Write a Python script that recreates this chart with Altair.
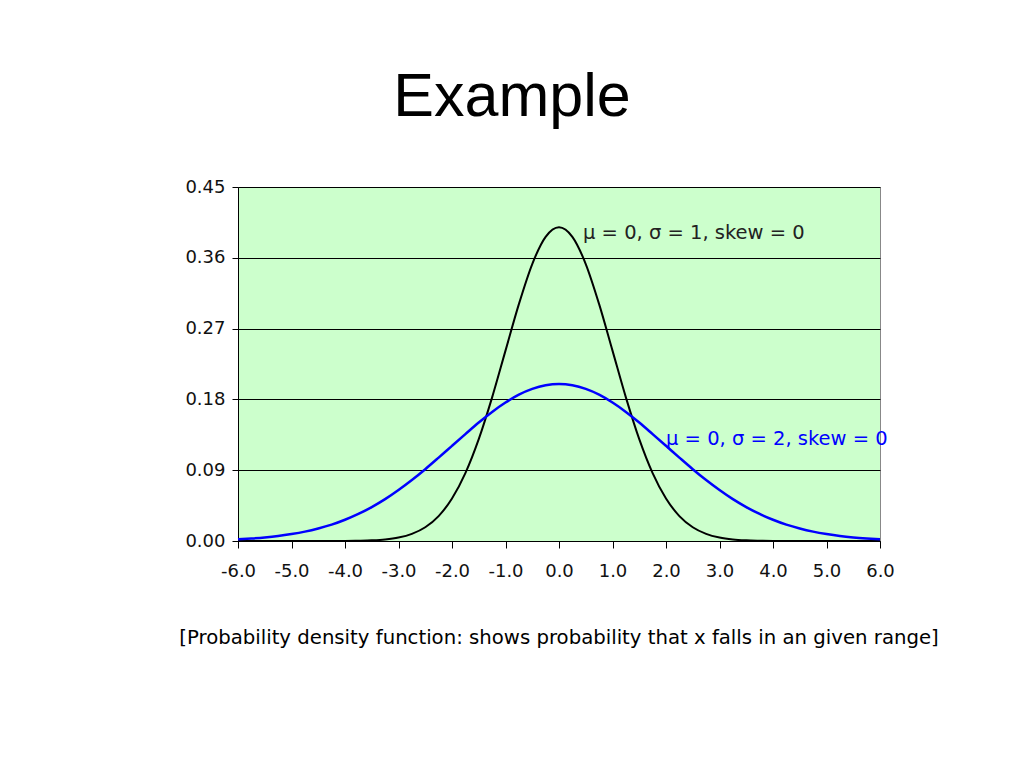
import altair as alt
import pandas as pd

# x positions (read along the horizontal axis)
xs = [-6.0, -5.75, -5.5, -5.25, -5.0, -4.75, -4.5, -4.25, -4.0, -3.75, -3.5, -3.25,
      -3.0, -2.75, -2.5, -2.25, -2.0, -1.75, -1.5, -1.25, -1.0, -0.75, -0.5, -0.25,
      0.0, 0.25, 0.5, 0.75, 1.0, 1.25, 1.5, 1.75, 2.0, 2.25, 2.5, 2.75,
      3.0, 3.25, 3.5, 3.75, 4.0, 4.25, 4.5, 4.75, 5.0, 5.25, 5.5, 5.75, 6.0]

# density (mu=0, sigma=1)
y_sigma1 = [0.0, 0.0, 0.0, 0.0, 0.0, 0.0, 0.0, 0.0, 0.0001, 0.0004, 0.0009, 0.0020,
            0.0044, 0.0091, 0.0175, 0.0317, 0.0540, 0.0863, 0.1295, 0.1826, 0.2420, 0.3011, 0.3521, 0.3867,
            0.3989, 0.3867, 0.3521, 0.3011, 0.2420, 0.1826, 0.1295, 0.0863, 0.0540, 0.0317, 0.0175, 0.0091,
            0.0044, 0.0020, 0.0009, 0.0004, 0.0001, 0.0, 0.0, 0.0, 0.0, 0.0, 0.0, 0.0, 0.0]

# density (mu=0, sigma=2)
y_sigma2 = [0.0022, 0.0032, 0.0045, 0.0063, 0.0088, 0.0119, 0.0159, 0.0208, 0.0270, 0.0344, 0.0431, 0.0532,
            0.0648, 0.0775, 0.0913, 0.1060, 0.1210, 0.1359, 0.1506, 0.1641, 0.1760, 0.1860, 0.1933, 0.1979,
            0.1995, 0.1979, 0.1933, 0.1860, 0.1760, 0.1641, 0.1506, 0.1359, 0.1210, 0.1060, 0.0913, 0.0775,
            0.0648, 0.0532, 0.0431, 0.0344, 0.0270, 0.0208, 0.0159, 0.0119, 0.0088, 0.0063, 0.0045, 0.0032, 0.0022]

x_ticks = [-6, -5, -4, -3, -2, -1, 0, 1, 2, 3, 4, 5, 6]
y_ticks = [0.0, 0.09, 0.18, 0.27, 0.36, 0.45]

title_text = ["Example"]
caption_text = ["[Probability density function: shows probability that x falls in an given range]"]
label1 = ["\u03bc = 0, \u03c3 = 1, skew = 0"]
label2 = ["\u03bc = 0, \u03c3 = 2, skew = 0"]

FONT = "DejaVu Sans"
TITLE_FONT = "Liberation Sans"

df = pd.DataFrame({"x": xs + xs,
                   "y": y_sigma1 + y_sigma2,
                   "s": ["s1"] * len(xs) + ["s2"] * len(xs)})

xenc = alt.X("x:Q", scale=alt.Scale(domain=[-6, 6], nice=False),
             axis=alt.Axis(values=x_ticks, format=".1f", title=None, grid=False,
                           labelExpr="replace(datum.label, '\u2212', '-')",
                           domainColor="black", tickColor="black", tickSize=7,
                           labelFontSize=18, labelFont=FONT, labelColor="#111",
                           labelPadding=14, labelFlush=False))
yenc = alt.Y("y:Q", scale=alt.Scale(domain=[0, 0.45], nice=False),
             axis=alt.Axis(values=y_ticks, format=".2f", title=None, grid=True,
                           gridColor="black", gridOpacity=1, gridWidth=1,
                           domainColor="black", tickColor="black", tickSize=6,
                           labelFontSize=18, labelFont=FONT, labelColor="#111",
                           labelPadding=7))

lines = alt.Chart(df).mark_line(interpolate="monotone").encode(
    x=xenc, y=yenc,
    color=alt.Color("s:N", scale=alt.Scale(domain=["s1", "s2"], range=["#000000", "#0000ff"]), legend=None),
    strokeWidth=alt.StrokeWidth("s:N", scale=alt.Scale(domain=["s1", "s2"], range=[2, 2.5]), legend=None),
)

def text_layer(vals, x, y, size, color, align="left", font=FONT):
    return alt.Chart(pd.DataFrame({"t": vals})).mark_text(
        font=font, fontSize=size, color=color, align=align, baseline="middle"
    ).encode(text="t:N", x=alt.value(x), y=alt.value(y))

t_title = text_layer(title_text, 274, -89, 61, "black", "center", TITLE_FONT)
t_caption = text_layer(caption_text, 321, 451, 19.7, "black", "center")
t_l1 = text_layer(label1, 345, 46, 19.5, "#222222")
t_l2 = text_layer(label2, 428, 252, 19.5, "#0000ff")

chart = alt.layer(lines, t_l1, t_l2, t_title, t_caption).properties(
    width=642, height=354,
    autosize=alt.AutoSizeParams(type="none"),
    padding={"left": 230, "top": 179, "right": 130, "bottom": 200},
    background="white",
).configure_view(fill="#ccffcc", stroke="#888888", strokeWidth=1)

chart.save("out.html", embed_options={"renderer": "svg", "actions": False})
